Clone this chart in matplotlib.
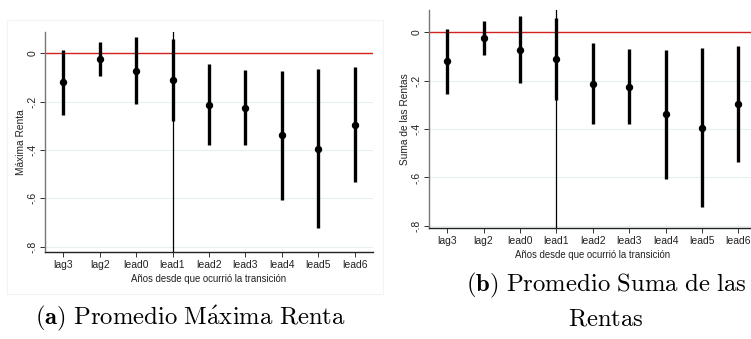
import matplotlib
matplotlib.use("Agg")
import matplotlib.pyplot as plt
from matplotlib.patches import Rectangle
import numpy as np

# Data ----------------------------------------------------------------------
labels = ["lag3", "lag2", "lead0", "lead1", "lead2", "lead3", "lead4", "lead5", "lead6"]
coef = [-0.120, -0.024, -0.072, -0.110, -0.213, -0.225, -0.338, -0.395, -0.295]
ci_low = [-0.255, -0.094, -0.210, -0.279, -0.381, -0.381, -0.607, -0.724, -0.534]
ci_high = [0.014, 0.045, 0.066, 0.058, -0.043, -0.069, -0.073, -0.065, -0.057]
yticks = [0, -0.2, -0.4, -0.6, -0.8]
ytick_labels = ["0", "-.2", "-.4", "-.6", "-.8"]
event_label = "lead1"

plt.rcParams["font.family"] = ["Liberation Sans", "DejaVu Sans"]
plt.rcParams["mathtext.fontset"] = "cm"

fig = plt.figure(figsize=(7.51, 3.39), dpi=100)

# faint graph-region outline of the left panel (Stata style)
fig.patches.append(Rectangle((7/751, 1 - 294/339), 376/751, 274/339,
                             transform=fig.transFigure, fill=False,
                             edgecolor="#f3f3f3", linewidth=0.8))


def coefplot(ax, ylab, ylim):
    x = np.arange(len(labels))
    ax.axhline(0, color="#d62020", linewidth=1.0, zorder=2)
    for yt in yticks[1:]:
        ax.axhline(yt, color="#e8efef", linewidth=0.8, zorder=0)
    ax.axvline(labels.index(event_label), color="black", linewidth=0.9, zorder=3)
    ax.vlines(x, ci_low, ci_high, color="black", linewidth=2.4, zorder=4)
    ax.plot(x, coef, "o", color="black", markersize=4.3, zorder=5)
    ax.set_xlim(-0.5, len(labels) - 0.5)
    ax.set_ylim(*ylim)
    ax.set_xticks(x)
    ax.set_xticklabels(labels, fontsize=7.5)
    ax.set_yticks(yticks)
    ax.set_yticklabels(ytick_labels, fontsize=7.5, rotation=90, va="center")
    ax.tick_params(axis="both", length=3.5, width=0.7, colors="#333333",
                   labelcolor="#222222", pad=2)
    ax.set_xlabel("Años desde que ocurrió la transición", fontsize=6.9,
                  color="#222222", labelpad=3)
    ax.set_ylabel(ylab, fontsize=7.3, color="#222222", labelpad=1)
    ax.spines["top"].set_visible(False)
    ax.spines["right"].set_visible(False)
    ax.spines["left"].set_color("#777777")
    ax.spines["left"].set_linewidth(1.0)
    ax.spines["bottom"].set_color("#222222")
    ax.spines["bottom"].set_linewidth(1.0)


ax1 = fig.add_axes([45/751, 1 - 252.3/339, 328/751, 220.6/339])
coefplot(ax1, "Máxima Renta", (-0.823, 0.089))

ax2 = fig.add_axes([429/751, 1 - 228.3/339, 327.6/751, 218.3/339])
coefplot(ax2, "Suma de las Rentas", (-0.81, 0.092))

# captions
fig.text(190/751, 1 - 318/339, r"$\mathbf{(a)}\ \mathrm{Promedio\ M\acute{a}xima\ Renta}$",
         fontsize=17.8, ha="center", va="center")
fig.text(606/751, 1 - 285/339, r"$\mathbf{(b)}\ \mathrm{Promedio\ Suma\ de\ las}$",
         fontsize=17.8, ha="center", va="center")
fig.text(606/751, 1 - 318/339, r"$\mathrm{Rentas}$",
         fontsize=17.8, ha="center", va="center")

fig.savefig("out.png", dpi=100)
